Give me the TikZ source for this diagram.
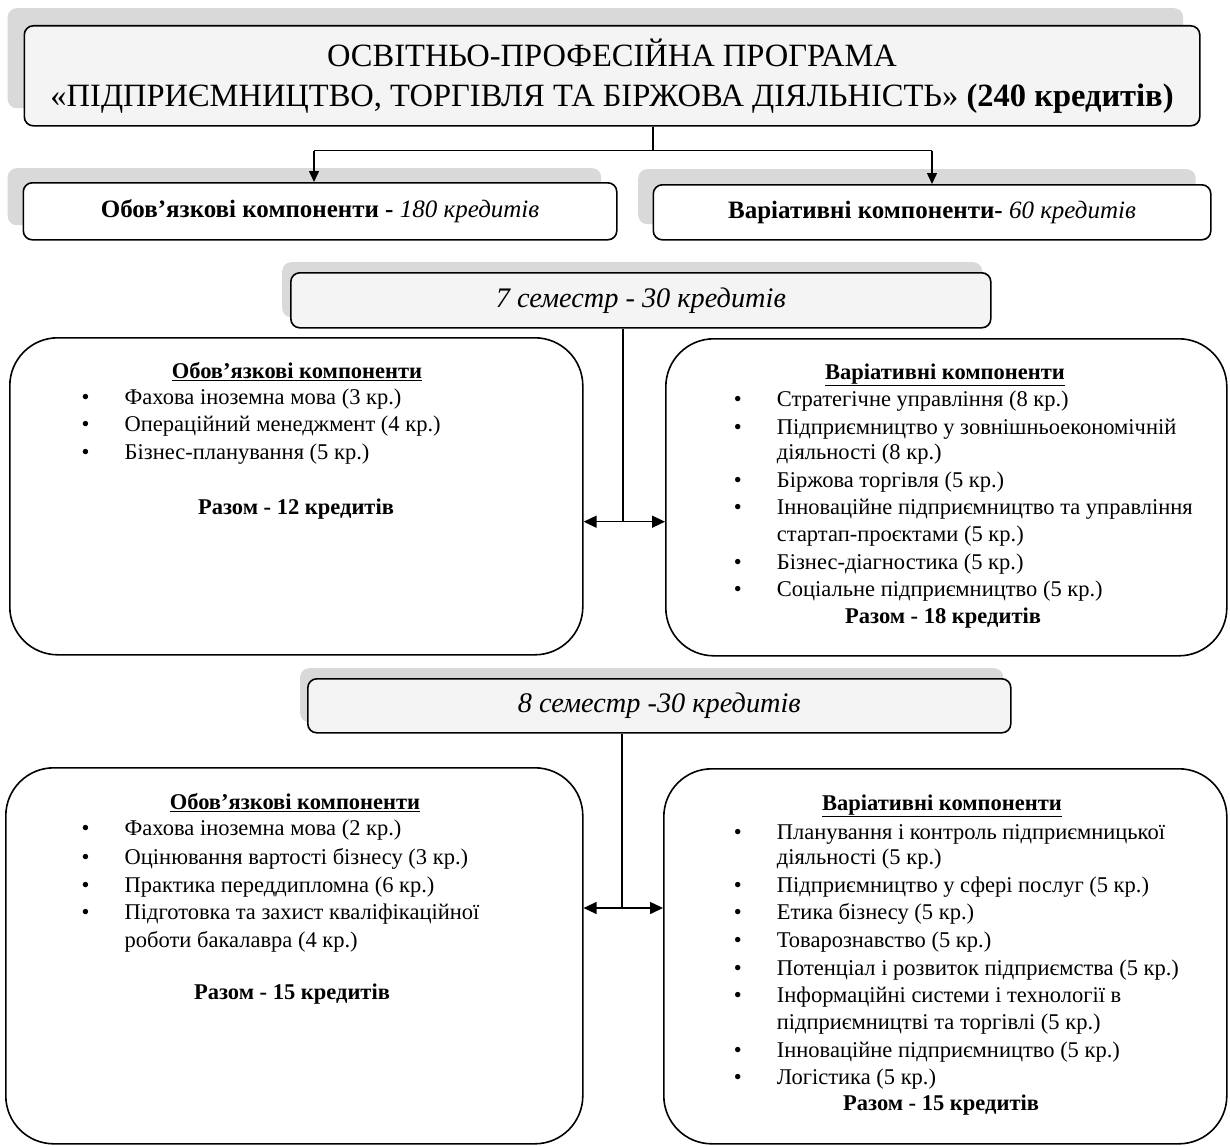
\documentclass[tikz,border=0pt]{standalone}
\usepackage{fontspec}
\setmainfont{Liberation Serif}
\usetikzlibrary{arrows.meta}
\newcommand\bitem[4]{%
  \node[bul] (#1b) at ({#2-39},#3) {\textbullet};
  \node[itm] (#1) at (#2,#3) {#4};}
\newcommand\citem[4]{\node[itm] (#1) at (#2,#3) {#4};}
\begin{document}
\begin{tikzpicture}[x=1pt,y=-1pt,
  shd/.style={fill=gray!30, draw=none, rounded corners=9pt, anchor=north west, inner sep=0pt},
  box/.style={draw=black, line width=1.6pt, rounded corners=9pt, anchor=north west, inner sep=0pt, align=center},
  big/.style={draw=black, line width=1.6pt, rounded corners=48pt, anchor=north west, inner sep=0pt, fill=white},
  conn/.style={line width=1.5pt},
  tip/.style={-{Triangle[length=11pt,width=10pt]}},
  dtip/.style={{Triangle[length=13pt,width=12pt]}-{Triangle[length=13pt,width=12pt]}},
  itm/.style={anchor=mid west, inner sep=0pt, font=\fontsize{22.5}{27}\selectfont},
  bul/.style={anchor=mid, inner sep=0pt, font=\fontsize{22.5}{27}\selectfont},
  hdr/.style={anchor=mid, inner sep=0pt, font=\fontsize{22.5}{27}\selectfont\bfseries},
  tot/.style={anchor=mid, inner sep=0pt, font=\fontsize{22.5}{27}\selectfont\bfseries}
]
\useasboundingbox (0,0) rectangle (1230,1145);
\fill[white] (0,0) rectangle (1230,1145);

% ---------- title ----------
\node[shd, minimum width=1175.5pt, minimum height=100pt] (titleshd) at (7.5,8) {};
\node[box, fill=gray!9, minimum width=1175.5pt, minimum height=100pt,
      font=\fontsize{32.5}{40}\selectfont] (title) at (23.5,25)
  {ОСВІТНЬО-ПРОФЕСІЙНА ПРОГРАМА\\«ПІДПРИЄМНИЦТВО, ТОРГІВЛЯ ТА БІРЖОВА ДІЯЛЬНІСТЬ» \textbf{(240 кредитів)}};

% ---------- level 2 ----------
\node[shd, minimum width=593.5pt, minimum height=57pt] (l2ashd) at (7.5,168) {};
\node[box, fill=white, minimum width=593.5pt, minimum height=57pt,
      font=\fontsize{25}{27}\selectfont] (l2a) at (22.5,182)
  {\textbf{Обов’язкові компоненти -} \textit{180 кредитів}};
\node[shd, minimum width=557.5pt, minimum height=55pt] (l2bshd) at (638,169) {};
\node[box, fill=white, minimum width=557.5pt, minimum height=55pt,
      font=\fontsize{25}{27}\selectfont] (l2b) at (652.5,184)
  {\textbf{Варіативні компоненти-} \textit{60 кредитів}};

\coordinate (j1) at (653,150.7);
\coordinate (ka) at (314,150.7);
\coordinate (kb) at (932,150.7);
\draw[conn] (title.south -| j1) -- (j1);
\draw[conn] (ka) -- (kb);
\draw[conn,tip] (ka) -- (l2a.north -| ka);
\draw[conn,tip] (kb) -- (l2b.north -| kb);

% ---------- semester 7 ----------
\node[shd, minimum width=700pt, minimum height=55pt] (s7shd) at (282,262) {};
\node[box, fill=gray!9, minimum width=700pt, minimum height=55pt,
      font=\fontsize{28.3}{30}\selectfont\itshape] (s7) at (290,272)
  {7 семестр - 30 кредитів};

\node[big, minimum width=573pt, minimum height=317pt] (b7l) at (9,337) {};
\node[big, minimum width=561pt, minimum height=317pt] (b7r) at (665,338) {};

\coordinate (j2) at (623,521.7);
\draw[conn] (s7.south -| j2) -- (j2);
\draw[conn,dtip] (b7l.east |- j2) -- (b7r.west |- j2);

\node[hdr] (h7l) at (297,376) {\underline{Обов’язкові компоненти}};
\bitem{a1}{124.5}{402}{Фахова іноземна мова (3 кр.)}
\bitem{a2}{124.5}{429}{Операційний менеджмент (4 кр.)}
\bitem{a3}{124.5}{457}{Бізнес-планування (5 кр.)}
\node[tot] (r7l) at (296,512) {Разом - 12 кредитів};

\node[hdr] (h7r) at (945,377) {\underline{Варіативні компоненти}};
\bitem{c1}{776.7}{404}{Стратегічне управління (8 кр.)}
\bitem{c2}{776.7}{432}{Підприємництво у зовнішньоекономічній}
\citem{c2x}{776.7}{457}{діяльності (8 кр.)}
\bitem{c3}{776.7}{485}{Біржова торгівля (5 кр.)}
\bitem{c4}{776.7}{512}{Інноваційне підприємництво та управління}
\citem{c4x}{776.7}{539}{стартап-проєктами (5 кр.)}
\bitem{c5}{776.7}{567}{Бізнес-діагностика (5 кр.)}
\bitem{c6}{776.7}{594}{Соціальне підприємництво (5 кр.)}
\node[tot] (r7r) at (943,621) {Разом - 18 кредитів};

% ---------- semester 8 ----------
\node[shd, minimum width=703pt, minimum height=54pt] (s8shd) at (300,668) {};
\node[box, fill=gray!9, minimum width=703pt, minimum height=54pt,
      font=\fontsize{28.3}{30}\selectfont\itshape] (s8) at (307,678)
  {8 семестр -30 кредитів};

\node[big, minimum width=577pt, minimum height=376pt] (b8l) at (5,767) {};
\node[big, minimum width=563pt, minimum height=375pt] (b8r) at (663,768) {};

\coordinate (j3) at (622,908);
\draw[conn] (s8.south -| j3) -- (j3);
\draw[conn,dtip] (b8l.east |- j3) -- (b8r.west |- j3);

\node[hdr] (h8l) at (295,807) {\underline{Обов’язкові компоненти}};
\bitem{d1}{124.5}{833}{Фахова іноземна мова (2 кр.)}
\bitem{d2}{124.5}{862}{Оцінювання вартості бізнесу (3 кр.)}
\bitem{d3}{124.5}{890}{Практика переддипломна (6 кр.)}
\bitem{d4}{124.5}{917}{Підготовка та захист кваліфікаційної}
\citem{d4x}{124.5}{945}{роботи бакалавра (4 кр.)}
\node[tot] (r8l) at (292,997) {Разом - 15 кредитів};

\node[hdr] (h8r) at (942,808) {\underline{Варіативні компоненти}};
\bitem{e1}{776.7}{837}{Планування і контроль підприємницької}
\citem{e1x}{776.7}{862}{діяльності (5 кр.)}
\bitem{e2}{776.7}{890}{Підприємництво у сфері послуг (5 кр.)}
\bitem{e3}{776.7}{917}{Етика бізнесу (5 кр.)}
\bitem{e4}{776.7}{945}{Товарознавство (5 кр.)}
\bitem{e5}{776.7}{973}{Потенціал і розвиток підприємства (5 кр.)}
\bitem{e6}{776.7}{1000}{Інформаційні системи і технології в}
\citem{e6x}{776.7}{1027}{підприємництві та торгівлі (5 кр.)}
\bitem{e7}{776.7}{1055}{Інноваційне підприємництво (5 кр.)}
\bitem{e8}{776.7}{1082}{Логістика (5 кр.)}
\node[tot] (r8r) at (941,1108) {Разом - 15 кредитів};
\end{tikzpicture}
\end{document}
